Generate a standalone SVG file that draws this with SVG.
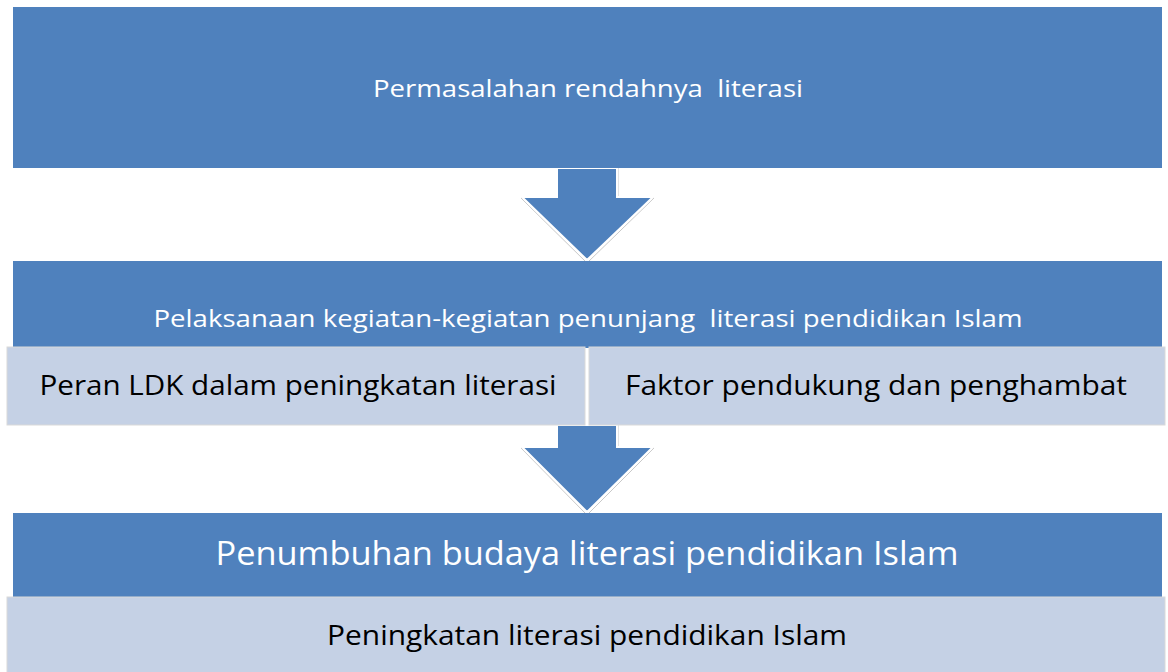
<svg xmlns="http://www.w3.org/2000/svg" width="1168" height="672" viewBox="0 0 1168 672">
<style>
.blue{fill:#4F81BD}
.light{fill:#C5D1E5;stroke:#D9D9D9;stroke-width:1}
.arrow{fill:#4F81BD;stroke:#FFFFFF;stroke-width:2;stroke-linejoin:miter}
.arrowEdge{fill:none;stroke:#C8C8C8;stroke-width:1}
.tw{fill:#FFFFFF;font-family:"Open Sans","Noto Sans","Liberation Sans",sans-serif;text-anchor:middle;white-space:pre}
.tb{fill:#000000;font-family:"Open Sans","Noto Sans","Liberation Sans",sans-serif;text-anchor:middle;white-space:pre}
</style>
<rect width="1168" height="672" fill="#FFFFFF"/>
<g id="connectors">
  <path class="arrowEdge" d="M557,168 V198 H521 L587,263 L654,198 H618 V168"/>
  <path class="arrow" d="M557,168 V197 H522 L587,260 L653,197 H617 V168 Z"/>
  <path class="arrowEdge" d="M557,425 V448 H521 L587,515 L654,448 H618 V425"/>
  <path class="arrow" d="M557,425 V447 H522 L587,512 L653,447 H617 V425 Z"/>
</g>
<g id="node-problem">
  <rect class="blue" x="13" y="7" width="1149" height="161"/>
  <text class="tw" x="588" y="97" font-size="24" textLength="430" lengthAdjust="spacingAndGlyphs" xml:space="preserve">Permasalahan rendahnya  literasi</text>
</g>
<g id="node-activities">
  <rect class="blue" x="13" y="261" width="1149" height="87"/>
  <text class="tw" x="588" y="327" font-size="24" textLength="869" lengthAdjust="spacingAndGlyphs" xml:space="preserve">Pelaksanaan kegiatan-kegiatan penunjang  literasi pendidikan Islam</text>
</g>
<g id="node-ldk">
  <rect class="light" x="7" y="347" width="578" height="78"/>
  <text class="tb" x="298" y="395" font-size="27" textLength="517" lengthAdjust="spacingAndGlyphs">Peran LDK dalam peningkatan literasi</text>
</g>
<g id="node-factors">
  <rect class="light" x="589" y="347" width="576" height="78"/>
  <text class="tb" x="876" y="395" font-size="27" textLength="502" lengthAdjust="spacingAndGlyphs">Faktor pendukung dan penghambat</text>
</g>
<g id="node-growth">
  <rect class="blue" x="13" y="513" width="1149" height="84"/>
  <text class="tw" x="587" y="565" font-size="33" textLength="743" lengthAdjust="spacingAndGlyphs">Penumbuhan budaya literasi pendidikan Islam</text>
</g>
<g id="node-improvement">
  <rect class="light" x="7" y="597" width="1158" height="76"/>
  <text class="tb" x="587" y="645" font-size="27" textLength="520" lengthAdjust="spacingAndGlyphs">Peningkatan literasi pendidikan Islam</text>
</g>
</svg>
